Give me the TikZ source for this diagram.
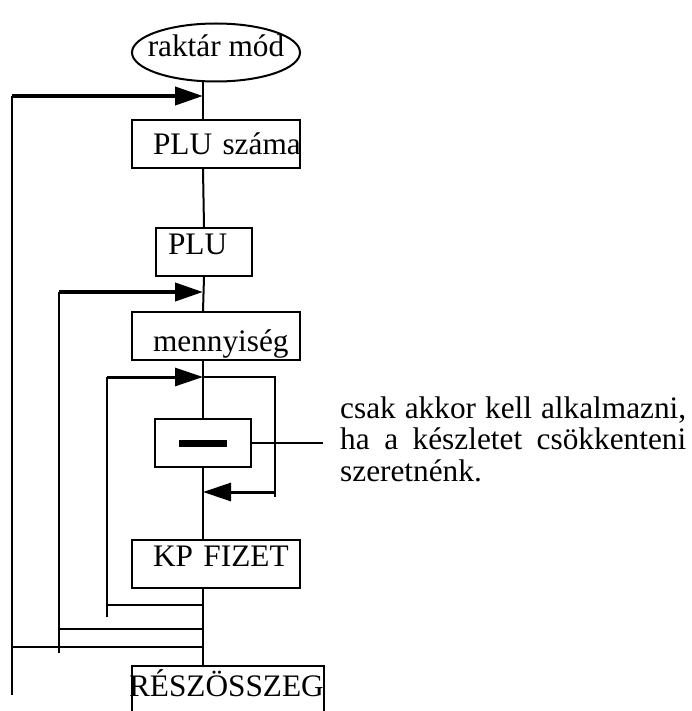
\documentclass[tikz,border=0pt]{standalone}
\usepackage{fontspec}
\setmainfont{Liberation Serif}
\usetikzlibrary{shapes.geometric, arrows.meta}
\hyphenpenalty=10000
\tolerance=9999

\begin{document}
\begin{tikzpicture}[x=1pt, y=-1pt,
    font=\fontsize{31.3}{31.5}\selectfont,
    bx/.style={rectangle, draw, line width=2pt, anchor=north west,
        inner ysep=0pt, align=left},
    ov/.style={ellipse, draw, line width=2pt, inner xsep=-30pt, inner ysep=-6pt,
        minimum width=168pt, minimum height=58pt},
    ln/.style={line width=2pt},
    ar/.style={-{Triangle[length=28pt, width=18pt]}, line width=4pt},
    am/.style={ar, line width=3pt}]
\useasboundingbox (0,0) rectangle (691,711);
\clip (0,0) rectangle (691,711);
% steps of the flow
\node[ov, text height=21pt, text depth=12pt] (start) at (216,52.5) {raktár mód};
\node[bx, text width=126pt, inner xsep=21pt, text height=35pt, text depth=13pt] (pluszam) at (131,119) {\mbox{PLU száma}};
\node[bx, text width=72pt, inner xsep=12pt, text height=26pt, text depth=22pt] (plu) at (155,227) {PLU};
\node[bx, text width=126pt, inner xsep=21pt, text height=39pt, text depth=9pt] (menny) at (131,311) {\mbox{mennyiség}};
\node[bx, anchor=center, inner sep=0pt, minimum width=96pt, minimum height=48pt] (minus) at (203,443) {\rule{48pt}{7pt}};
\node[bx, text width=126pt, inner xsep=21pt, text height=26pt, text depth=22pt] (kp) at (131,539) {\mbox{KP FIZET}};
\node[bx, text width=198pt, inner xsep=-3pt, text height=30pt, text depth=60pt] (resz) at (131,665) {\mbox{RÉSZÖSSZEG}};
\node[anchor=base west, text width=346pt, align=justify, inner sep=0pt] (remark) at (340,418)
    {csak akkor kell alkalmazni,\linebreak ha a készletet csökkenteni\linebreak szeretnénk.};
% junctions on the spine
\coordinate (sp) at (203,0);
\coordinate (j1) at (203,96);
\coordinate (j2) at (203,292);
\coordinate (j3) at (203,377);
\coordinate (j4) at (203,492);
\coordinate (k1) at (203,605);
\coordinate (k2) at (203,629);
\coordinate (k3) at (203,647);
\coordinate (l1) at (12,695);
\coordinate (l2) at (59,653);
\coordinate (l3) at (107,617);
\coordinate (r3) at (275,497);
\coordinate (nt) at (323,443);
% spine
\draw[ln] (start.south -| sp) -- (pluszam.north -| sp);
\draw[ln] (pluszam.south -| sp) -- (plu.north);
\draw[ln] (plu.south) -- (menny.north -| sp);
\draw[ln] (menny.south -| sp) -- (minus.north);
\draw[ln] (minus.south) -- (kp.north -| sp);
\draw[ln] (kp.south -| sp) -- (resz.north -| sp);
% loops back
\draw[ln] (l1) -- (l1 |- j1);
\draw[ln] (k3) -- (k3 -| l1);
\draw[ar] (l1 |- j1) -- (j1);
\draw[ln] (l2) -- (l2 |- j2);
\draw[ln] (k2) -- (k2 -| l2);
\draw[ar] (l2 |- j2) -- (j2);
\draw[ln] (l3) -- (l3 |- j3);
\draw[ln] (k1) -- (k1 -| l3);
\draw[am] (l3 |- j3) -- (j3);
\draw[ln] (j3) -- (j3 -| r3) -- (r3);
\draw[am] (j4 -| r3) -- (j4);
% note
\draw[ln] (minus.east) -- (nt);
\end{tikzpicture}
\end{document}
